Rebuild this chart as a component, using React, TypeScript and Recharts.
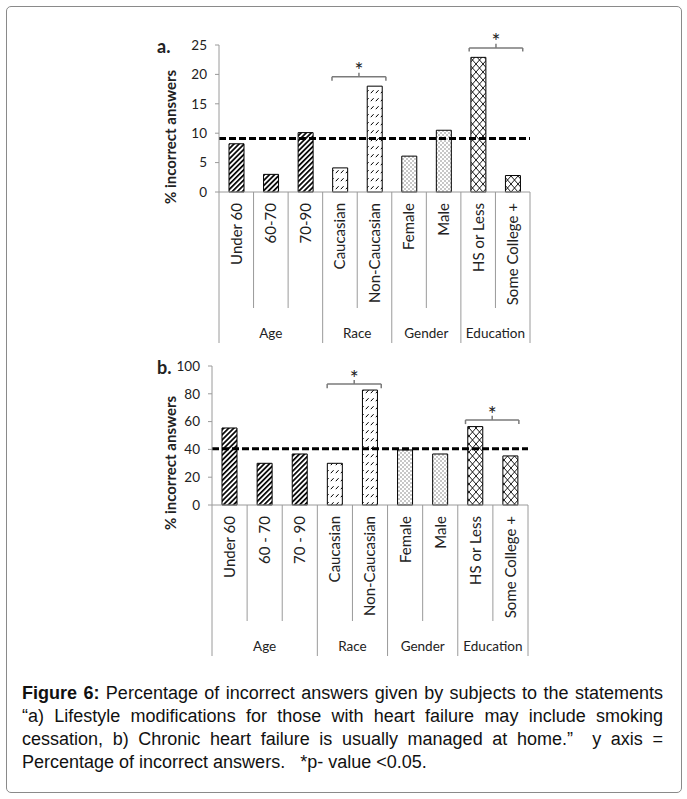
import React from 'react';
import { BarChart, Bar, XAxis, YAxis, Cell, ReferenceLine, ReferenceDot } from 'recharts';

const categoriesA = ['Under 60', '60-70', '70-90', 'Caucasian', 'Non-Caucasian', 'Female', 'Male', 'HS or Less', 'Some College +'];
const categoriesB = ['Under 60', '60 - 70', '70 - 90', 'Caucasian', 'Non-Caucasian', 'Female', 'Male', 'HS or Less', 'Some College +'];
const groups = [
  { name: 'Age', start: 0, size: 3 },
  { name: 'Race', start: 3, size: 2 },
  { name: 'Gender', start: 5, size: 2 },
  { name: 'Education', start: 7, size: 2 },
];
const valuesA = [8.2, 3.0, 10.1, 4.1, 18.0, 6.1, 10.5, 22.9, 2.8];
const valuesB = [55.4, 30, 36.7, 30, 82.7, 39.6, 36.7, 56.4, 35.3];
const meanA = 9.1;
const meanB = 40.5;
const ticksA = [0, 5, 10, 15, 20, 25];
const ticksB = [0, 20, 40, 60, 80, 100];
// significance brackets, x in category units (0..9)
const bracketsA = [
  { from: 3.27, to: 4.83, y: 19.6, drop: 0.7, rise: 0.7, star: 21.6 },
  { from: 7.24, to: 8.79, y: 24.5, drop: 0.6, rise: 0.7, star: 26.5 },
];
const bracketsB = [
  { from: 3.28, to: 4.82, y: 87, drop: 3, rise: 3, star: 94.5 },
  { from: 7.22, to: 8.74, y: 61.2, drop: 3, rise: 3, star: 69 },
];

const FONT = 'Lato, "Open Sans", sans-serif';
const GRID = '#9a9a9a';
const TEXT = '#222';
const groupOf = (i: number) => groups.findIndex((g) => i >= g.start && i < g.start + g.size);

const patternDefs = (id: string) => (
  <defs>
    <pattern id={`${id}-0`} patternUnits="userSpaceOnUse" width="3.6" height="3.6" patternTransform="rotate(45)">
      <rect width="3.6" height="3.6" fill="#fff" />
      <rect width="1.7" height="3.6" fill="#000" />
    </pattern>
    <pattern id={`${id}-1`} patternUnits="userSpaceOnUse" width="5" height="8">
      <rect width="5" height="8" fill="#fff" />
      <path d="M0.8,5.2 L3.6,2.2" stroke="#000" strokeWidth="1" />
    </pattern>
    <pattern id={`${id}-2`} patternUnits="userSpaceOnUse" width="4" height="4">
      <rect width="4" height="4" fill="#fff" />
      <rect x="0.5" y="0.5" width="1" height="1" fill="#222" />
      <rect x="2.5" y="2.5" width="1" height="1" fill="#222" />
    </pattern>
    <pattern id={`${id}-3`} patternUnits="userSpaceOnUse" width="7" height="8">
      <rect width="7" height="8" fill="#fff" />
      <path d="M0,0 L7,8 M7,0 L0,8" stroke="#000" strokeWidth="0.9" />
    </pattern>
  </defs>
);

const makeTick = (band: number) => (props: any) => {
  const { x, y, payload } = props;
  const i = payload.index ?? props.index;
  const half = band / 2;
  const left = x - half;
  const group = groups.find((g) => g.start === i);
  return (
    <g>
      <line x1={left} y1={y} x2={left} y2={y + (group ? 151 : 116)} stroke={GRID} />
      {i === 8 && <line x1={x + half} y1={y} x2={x + half} y2={y + 151} stroke={GRID} />}
      <text
        transform={`translate(${x},${y + 11}) rotate(-90)`}
        textAnchor="end"
        dy="0.36em"
        fontSize={15}
        fontFamily={FONT}
        fill={TEXT}
      >
        {payload.value}
      </text>
      {group && (
        <text x={left + group.size * half} y={y + 141} textAnchor="middle" dy="0.35em" fontSize={13.5} fontFamily={FONT} fill={TEXT}>
          {group.name}
        </text>
      )}
    </g>
  );
};

type PanelProps = {
  id: string;
  letter: string;
  top: number;
  names: string[];
  values: number[];
  mean: number;
  ticks: number[];
  brackets: typeof bracketsA;
  marginTop: number;
  plotLeft: number;
  plotRight: number;
  plotHeight: number;
  titleY: number;
};

const Panel = ({ id, letter, top, names, values, mean, ticks, brackets, marginTop, plotLeft, plotRight, plotHeight, titleY }: PanelProps) => {
  const width = 560;
  const axisW = 60;
  const xAxisH = 156;
  const height = marginTop + plotHeight + xAxisH;
  const band = (plotRight - plotLeft) / names.length;
  // slot = centre of each category on the hidden numeric axis used for the brackets
  const data = names.map((name, i) => ({ name, value: values[i], slot: i + 0.5 }));
  const max = ticks[ticks.length - 1];
  return (
    <div style={{ position: 'absolute', left: 0, top }}>
      <BarChart
        width={width}
        height={height}
        data={data}
        margin={{ top: marginTop, right: width - plotRight, left: plotLeft - axisW, bottom: 0 }}
      >
        {patternDefs(id)}
        <XAxis
          dataKey="name"
          interval={0}
          height={xAxisH}
          tickLine={false}
          tickSize={0}
          tickMargin={0}
          axisLine={{ stroke: GRID }}
          tick={makeTick(band)}
        />
        <XAxis xAxisId="n" dataKey="slot" type="number" domain={[0, names.length]} allowDataOverflow hide />
        <YAxis
          width={axisW}
          domain={[0, max]}
          ticks={ticks}
          interval={0}
          tickSize={4}
          tickMargin={8}
          axisLine={{ stroke: GRID }}
          tickLine={{ stroke: GRID }}
          tick={{ fontSize: 13.5, fontFamily: FONT, fill: TEXT }}
        />
        <Bar dataKey="value" barSize={15} stroke="#000" strokeWidth={1} isAnimationActive={false}>
          {data.map((d, i) => (
            <Cell key={d.name} fill={`url(#${id}-${groupOf(i)})`} />
          ))}
        </Bar>
        <ReferenceLine y={mean} stroke="#000" strokeWidth={3} strokeDasharray="7 3" />
        {brackets.map((b, k) => {
          const mid = (b.from + b.to) / 2;
          return [
            <ReferenceLine key={`h${k}`} xAxisId="n" ifOverflow="visible" stroke="#7a7a7a" strokeWidth={1.5}
              segment={[{ x: b.from, y: b.y }, { x: b.to, y: b.y }]} />,
            <ReferenceLine key={`l${k}`} xAxisId="n" ifOverflow="visible" stroke="#7a7a7a" strokeWidth={1.5}
              segment={[{ x: b.from, y: b.y }, { x: b.from, y: b.y - b.drop }]} />,
            <ReferenceLine key={`r${k}`} xAxisId="n" ifOverflow="visible" stroke="#7a7a7a" strokeWidth={1.5}
              segment={[{ x: b.to, y: b.y }, { x: b.to, y: b.y - b.drop }]} />,
            <ReferenceLine key={`c${k}`} xAxisId="n" ifOverflow="visible" stroke="#7a7a7a" strokeWidth={1.5}
              segment={[{ x: mid, y: b.y }, { x: mid, y: b.y + b.rise }]} />,
            <ReferenceDot key={`s${k}`} xAxisId="n" x={mid} y={b.star} r={0} ifOverflow="visible"
              shape={(p: any) => (
                <text x={p.cx} y={p.cy} dy="0.6em" textAnchor="middle" fontSize={21} fontFamily={FONT} fill={TEXT}>*</text>
              )} />,
          ];
        })}
        <text x={157} y={marginTop + 8} fontSize={18} fontWeight="bold" fontFamily={FONT} fill={TEXT}>{letter}</text>
        <text
          transform={`translate(171,${titleY}) rotate(-90)`}
          textAnchor="middle"
          dy="0.35em"
          fontSize={15}
          fontWeight="bold"
          fontFamily={FONT}
          fill={TEXT}
        >
          % incorrect answers
        </text>
      </BarChart>
    </div>
  );
};

const captionLines = [
  [<b key="f">Figure 6:</b>, ' Percentage of incorrect answers given by subjects to the statements'],
  ['\u201ca) Lifestyle modifications for those with heart failure may include smoking'],
  ['cessation, b) Chronic heart failure is usually managed at home.\u201d  y axis ='],
  ['Percentage of incorrect answers.\u00a0\u00a0\u00a0*p- value <0.05.'],
];

export default function App() {
  return (
    <div style={{ position: 'absolute', left: 0, top: 0, width: 687, height: 799, background: '#fff' }}>
      <div
        style={{
          position: 'absolute',
          left: 6,
          top: 6,
          width: 674,
          height: 785,
          border: '1px solid #8a8a8a',
          borderRadius: 5,
        }}
      />
      <Panel
        id="pa"
        letter="a."
        top={0}
        names={categoriesA}
        values={valuesA}
        mean={meanA}
        ticks={ticksA}
        brackets={bracketsA}
        marginTop={45}
        plotLeft={219}
        plotRight={530}
        plotHeight={147}
        titleY={137}
      />
      <Panel
        id="pb"
        letter="b."
        top={340}
        names={categoriesB}
        values={valuesB}
        mean={meanB}
        ticks={ticksB}
        brackets={bracketsB}
        marginTop={26}
        plotLeft={212}
        plotRight={528}
        plotHeight={139}
        titleY={123}
      />
      <div
        style={{
          position: 'absolute',
          left: 22,
          top: 682,
          width: 641,
          fontFamily: '"Liberation Sans", Arial, sans-serif',
          fontSize: 18,
          lineHeight: '23px',
          color: '#111',
        }}
      >
        {captionLines.map((line, i) => (
          <div key={i} style={{ textAlign: 'justify', textAlignLast: i < captionLines.length - 1 ? 'justify' : 'left', whiteSpace: 'pre-wrap' }}>
            {line}
          </div>
        ))}
      </div>
    </div>
  );
}
